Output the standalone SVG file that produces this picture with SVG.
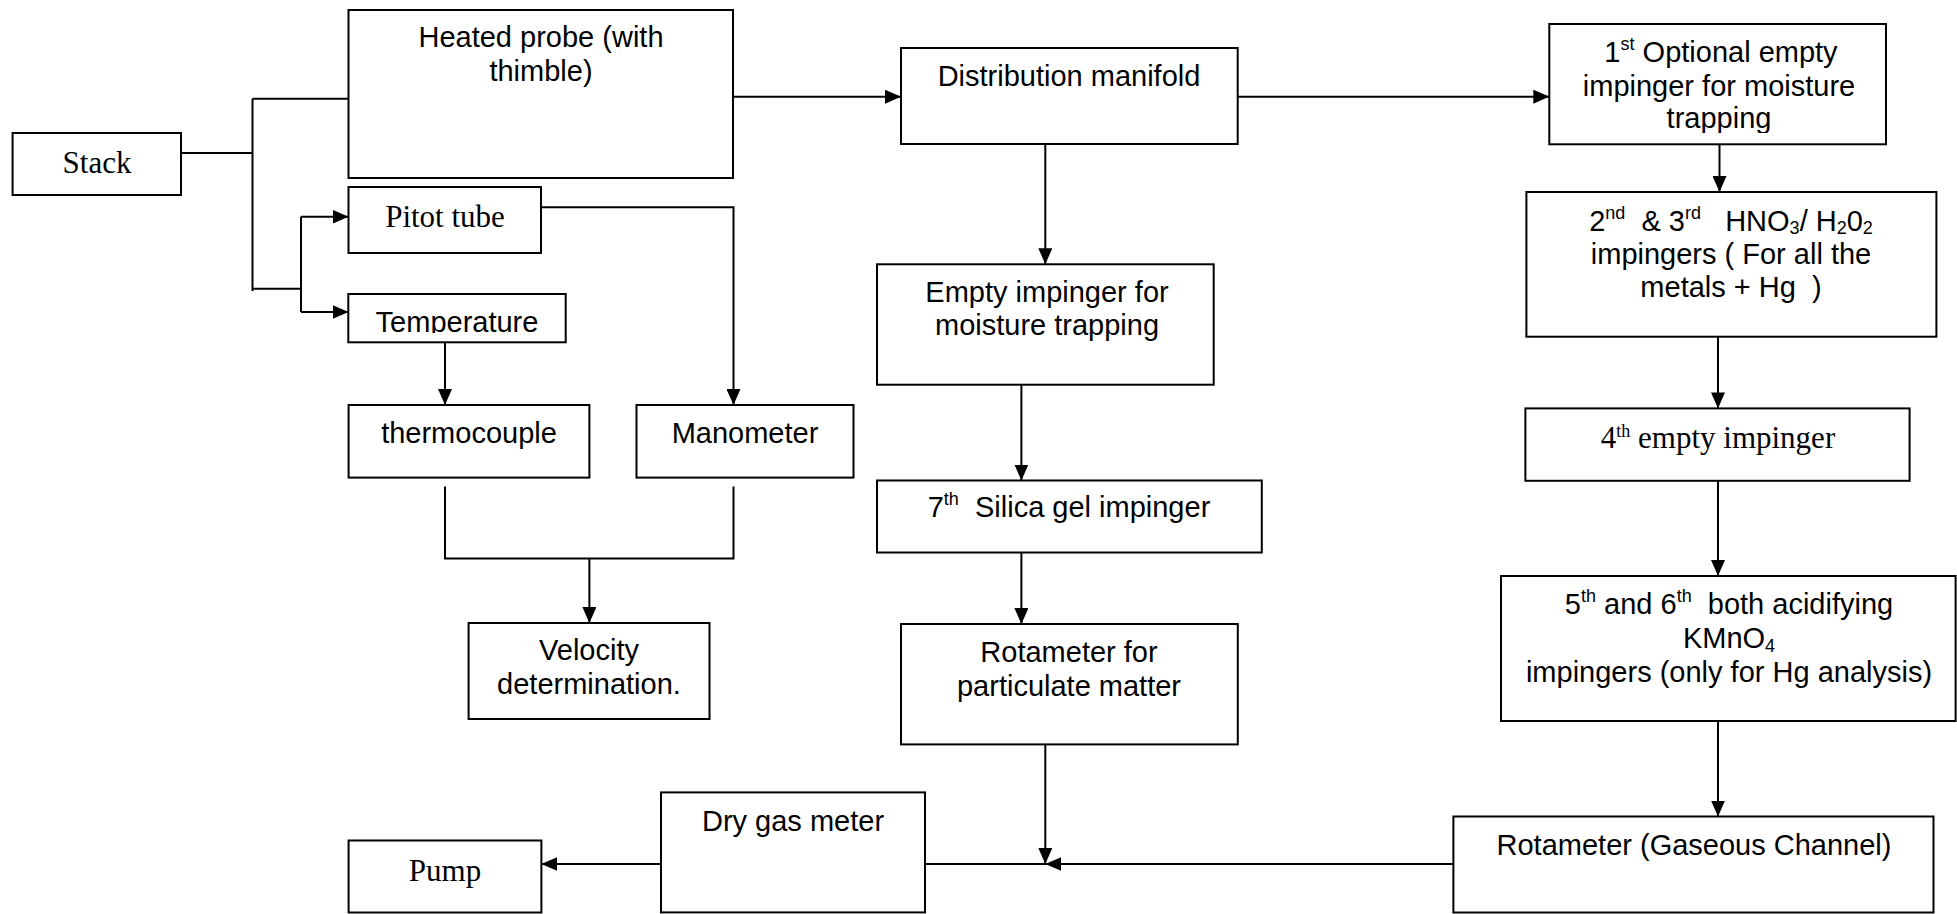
<svg xmlns="http://www.w3.org/2000/svg" width="1957" height="914" viewBox="0 0 1957 914">
<style>
.box{fill:#fff;stroke:#000;stroke-width:2}
.ln{fill:none;stroke:#000;stroke-width:2}
.s{font-family:"Liberation Sans",Arial,sans-serif;font-size:29px;fill:#000;text-anchor:middle}
.t{font-family:"Liberation Serif","Times New Roman",serif;font-size:31px;fill:#000;text-anchor:middle}
.sup{font-size:18px}
.sub{font-size:18px}
</style>
<defs>
<marker id="ah" markerUnits="userSpaceOnUse" markerWidth="16" markerHeight="14" refX="16" refY="7" orient="auto">
<path d="M0,0 L16,7 L0,14 z" fill="#000"/>
</marker>
<clipPath id="clipTemp"><rect x="348" y="294" width="218" height="39"/></clipPath>
<clipPath id="clipOpt"><rect x="1549" y="24" width="338" height="109"/></clipPath>
</defs>

<g id="connectors">
<path class="ln" d="M181,153 H252.5"/>
<path class="ln" d="M252.5,98.7 V291"/>
<path class="ln" d="M252.5,98.7 H348.5"/>
<path class="ln" d="M252.5,288.7 H301"/>
<path class="ln" d="M301,216.7 V312"/>
<path class="ln" d="M301,216.7 H348.5" marker-end="url(#ah)"/>
<path class="ln" d="M301,312 H348.5" marker-end="url(#ah)"/>
<path class="ln" d="M445,342 V405" marker-end="url(#ah)"/>
<path class="ln" d="M541,207.3 H733.5 V405" marker-end="url(#ah)"/>
<path class="ln" d="M445,486.5 V558.6 H733.5 V486.5"/>
<path class="ln" d="M589.4,558.6 V623" marker-end="url(#ah)"/>
<path class="ln" d="M733,96.7 H901" marker-end="url(#ah)"/>
<path class="ln" d="M1237.7,96.7 H1549.3" marker-end="url(#ah)"/>
<path class="ln" d="M1045.3,144 V264.3" marker-end="url(#ah)"/>
<path class="ln" d="M1021.4,384.7 V480.5" marker-end="url(#ah)"/>
<path class="ln" d="M1021.4,552.5 V624" marker-end="url(#ah)"/>
<path class="ln" d="M1045.3,744.4 V864" marker-end="url(#ah)"/>
<path class="ln" d="M1453.4,864 H1045.3" marker-end="url(#ah)"/>
<path class="ln" d="M925,864 H1045.3"/>
<path class="ln" d="M661,864 H541.4" marker-end="url(#ah)"/>
<path class="ln" d="M1719.5,144.3 V192" marker-end="url(#ah)"/>
<path class="ln" d="M1718,336.7 V408.4" marker-end="url(#ah)"/>
<path class="ln" d="M1718,480.8 V576" marker-end="url(#ah)"/>
<path class="ln" d="M1718,721 V816.5" marker-end="url(#ah)"/>
</g>

<g id="stack">
<rect class="box" x="12.6" y="133" width="168.4" height="62"/>
<text class="t" x="97" y="172.7">Stack</text>
</g>

<g id="heated-probe">
<rect class="box" x="348.5" y="10" width="384.5" height="168"/>
<text class="s" x="541" y="47">Heated probe (with</text>
<text class="s" x="541" y="81">thimble)</text>
</g>

<g id="pitot-tube">
<rect class="box" x="348.5" y="187" width="192.5" height="66"/>
<text class="t" x="445" y="226.7">Pitot tube</text>
</g>

<g id="temperature">
<rect class="box" x="348.3" y="294" width="217.4" height="48.3"/>
<text class="s" x="457" y="331.5" clip-path="url(#clipTemp)">Temperature</text>
</g>

<g id="thermocouple">
<rect class="box" x="348.6" y="405" width="240.8" height="72.6"/>
<text class="s" x="469" y="443">thermocouple</text>
</g>

<g id="manometer">
<rect class="box" x="636.5" y="405" width="217" height="72.6"/>
<text class="s" x="745" y="443">Manometer</text>
</g>

<g id="velocity">
<rect class="box" x="468.6" y="623" width="240.9" height="96"/>
<text class="s" x="589" y="660">Velocity</text>
<text class="s" x="589" y="694">determination.</text>
</g>

<g id="pump">
<rect class="box" x="348.6" y="840.5" width="192.8" height="72"/>
<text class="t" x="445" y="881">Pump</text>
</g>

<g id="dry-gas-meter">
<rect class="box" x="661" y="792.4" width="264" height="120"/>
<text class="s" x="793" y="831">Dry gas meter</text>
</g>

<g id="distribution-manifold">
<rect class="box" x="901" y="48" width="336.7" height="96"/>
<text class="s" x="1069" y="86">Distribution manifold</text>
</g>

<g id="empty-impinger">
<rect class="box" x="877" y="264.3" width="336.7" height="120.4"/>
<text class="s" x="1047" y="301.7">Empty impinger for</text>
<text class="s" x="1047" y="335">moisture trapping</text>
</g>

<g id="silica-gel">
<rect class="box" x="877" y="480.5" width="384.8" height="72"/>
<text class="s" x="1069" y="517" xml:space="preserve">7<tspan class="sup" baseline-shift="12">th</tspan>  Silica gel impinger</text>
</g>

<g id="rotameter-particulate">
<rect class="box" x="901" y="624" width="336.8" height="120.4"/>
<text class="s" x="1069" y="662">Rotameter for</text>
<text class="s" x="1069" y="695.6">particulate matter</text>
</g>

<g id="optional-impinger">
<rect class="box" x="1549.3" y="24" width="336.7" height="120.3"/>
<text class="s" x="1721" y="62">1<tspan class="sup" baseline-shift="12">st</tspan> Optional empty</text>
<text class="s" x="1719" y="95.5">impinger for moisture</text>
<text class="s" x="1719" y="127.7" clip-path="url(#clipOpt)">trapping</text>
</g>

<g id="hno3-impingers">
<rect class="box" x="1526.4" y="192" width="410" height="144.7"/>
<text class="s" x="1731" y="230.5" xml:space="preserve">2<tspan class="sup" baseline-shift="12">nd</tspan>  &amp; 3<tspan class="sup" baseline-shift="12">rd</tspan>   HNO<tspan class="sub" baseline-shift="-3">3</tspan>/ H<tspan class="sub" baseline-shift="-3">2</tspan>0<tspan class="sub" baseline-shift="-3">2</tspan></text>
<text class="s" x="1731" y="263.5">impingers ( For all the</text>
<text class="s" x="1731" y="296.5" xml:space="preserve">metals + Hg  )</text>
</g>

<g id="fourth-impinger">
<rect class="box" x="1525.4" y="408.4" width="384.2" height="72.4"/>
<text class="t" x="1718" y="448">4<tspan class="sup" baseline-shift="11" font-size="19">th</tspan> empty impinger</text>
</g>

<g id="kmno4-impingers">
<rect class="box" x="1501" y="576" width="454.6" height="145"/>
<text class="s" x="1729" y="613.7" xml:space="preserve">5<tspan class="sup" baseline-shift="12">th</tspan> and 6<tspan class="sup" baseline-shift="12">th</tspan>  both acidifying</text>
<text class="s" x="1729" y="648">KMnO<tspan class="sub" baseline-shift="-4">4</tspan></text>
<text class="s" x="1729" y="681.5">impingers (only for Hg analysis)</text>
</g>

<g id="rotameter-gaseous">
<rect class="box" x="1453.4" y="816.5" width="480.1" height="96"/>
<text class="s" x="1694" y="854.6">Rotameter (Gaseous Channel)</text>
</g>
</svg>
